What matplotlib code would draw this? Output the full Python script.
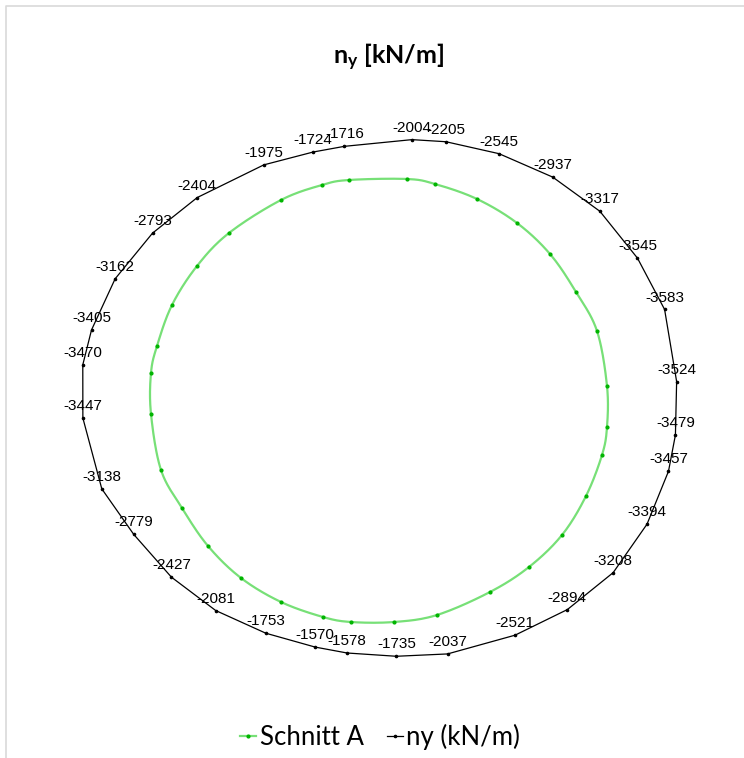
import numpy as np
import matplotlib
matplotlib.use("Agg")
import matplotlib.pyplot as plt
from matplotlib.lines import Line2D

# ---------------- data ----------------
# section "Schnitt A" outline (clockwise from top), in model units
sec_x = [0.56, 1.12, 1.96, 2.76, 3.42, 3.94, 4.36, 4.56, 4.56, 4.46, 4.14, 3.66,
         3.00, 2.22, 1.16, 0.30, -0.56, -1.12, -1.96, -2.76, -3.42, -3.94, -4.36,
         -4.56, -4.56, -4.44, -4.14, -3.64, -3.00, -1.96, -1.14, -0.60]
sec_y = [4.43, 4.33, 4.03, 3.55, 2.93, 2.17, 1.39, 0.29, -0.53, -1.09, -1.91, -2.69,
         -3.33, -3.83, -4.29, -4.43, -4.43, -4.33, -4.03, -3.55, -2.91, -2.15, -1.39,
         -0.27, 0.55, 1.09, 1.91, 2.69, 3.35, 4.01, 4.31, 4.41]
# membrane force ny at each section point [kN/m]
ny = [-2004, -2205, -2545, -2937, -3317, -3545, -3583, -3524, -3479, -3457, -3394,
      -3208, -2894, -2521, -2037, -1735, -1578, -1570, -1753, -2081, -2427, -2779,
      -3138, -3447, -3470, -3405, -3162, -2793, -2404, -1975, -1724, -1716]
value_scale = 0.000396   # model units per kN/m for the result diagram

title_math = r"$\mathbf{n_y}$ [kN/m]"
legend_labels = ["Schnitt A", "ny (kN/m)"]

# ---------------- style ----------------
W, H, DPI = 744, 758, 100
line_green = "#77E077"
marker_green = "#00B400"
font_ui = "Lato"
plt.rcParams["mathtext.fontset"] = "custom"
plt.rcParams["mathtext.rm"] = font_ui
plt.rcParams["mathtext.bf"] = font_ui + ":bold"

fig = plt.figure(figsize=(W / DPI, H / DPI), dpi=DPI)
ax = fig.add_axes([0, 0, 1, 1])
ax.set_xlim(-379 / 50, (W - 379) / 50)
ax.set_ylim((400.5 - H) / 50, 400.5 / 50)
ax.axis("off")

sx = np.array(sec_x)
sy = np.array(sec_y)
v = np.array(ny, dtype=float)

# smoothed closed curve (Excel-like Bezier through points)
def smooth_closed(x, y, n=20):
    P = np.column_stack([x, y])
    N = len(P)
    out = []
    t = np.linspace(0, 1, n, endpoint=False)[:, None]
    for i in range(N):
        p0, p1, p2, p3 = P[i - 1], P[i], P[(i + 1) % N], P[(i + 2) % N]
        c1 = p1 + (p2 - p0) / 6
        c2 = p2 - (p3 - p1) / 6
        seg = ((1 - t) ** 3) * p1 + 3 * ((1 - t) ** 2) * t * c1 + 3 * (1 - t) * t ** 2 * c2 + t ** 3 * p2
        out.append(seg)
    out.append(P[:1])
    out = np.vstack(out)
    return out[:, 0], out[:, 1]

cx, cy = smooth_closed(sx, sy)
ax.plot(cx, cy, color=line_green, lw=1.6, zorder=2)
ax.plot(sx, sy, ls="none", marker="o", ms=2.0, color=marker_green, zorder=3)

# result diagram: offset outward (radially) by |ny|
r = np.hypot(sx, sy)
bx = sx + value_scale * np.abs(v) * sx / r
by = sy + value_scale * np.abs(v) * sy / r
ax.plot(np.append(bx, bx[0]), np.append(by, by[0]), color="black", lw=0.9,
        marker="o", ms=1.6, markevery=list(range(len(bx))), zorder=3)

for xi, yi, val in zip(bx, by, ny):
    ax.annotate(f"{val}", (xi, yi), xytext=(0, 3.5), textcoords="offset points",
                ha="center", va="bottom", fontsize=11, family="Liberation Sans",
                color="black", zorder=4)

# title
fig.text(389 / W, 1 - 64 / H, title_math, ha="center", va="baseline",
         fontsize=18, fontweight="bold", family=font_ui)

# legend
handles = [Line2D([0], [0], color=line_green, lw=1.6, marker="o", ms=2.0,
                  markerfacecolor=marker_green, markeredgecolor=marker_green),
           Line2D([0], [0], color="black", lw=0.9, marker="o", ms=1.6)]
fig.legend(handles, legend_labels, loc="center", bbox_to_anchor=(380 / W, 1 - 737 / H),
           ncol=2, frameon=False, prop={"family": font_ui, "size": 18.5},
           handlelength=0.65, handletextpad=0.12, columnspacing=0.9)

# chart-area border (left/top visible)
fig.add_artist(Line2D([5.5 / W, 5.5 / W, 1], [0, 1 - 5.5 / H, 1 - 5.5 / H],
                      transform=fig.transFigure, color="#D9D9D9", lw=1.2))

fig.savefig("out.png", dpi=DPI, facecolor="white")
